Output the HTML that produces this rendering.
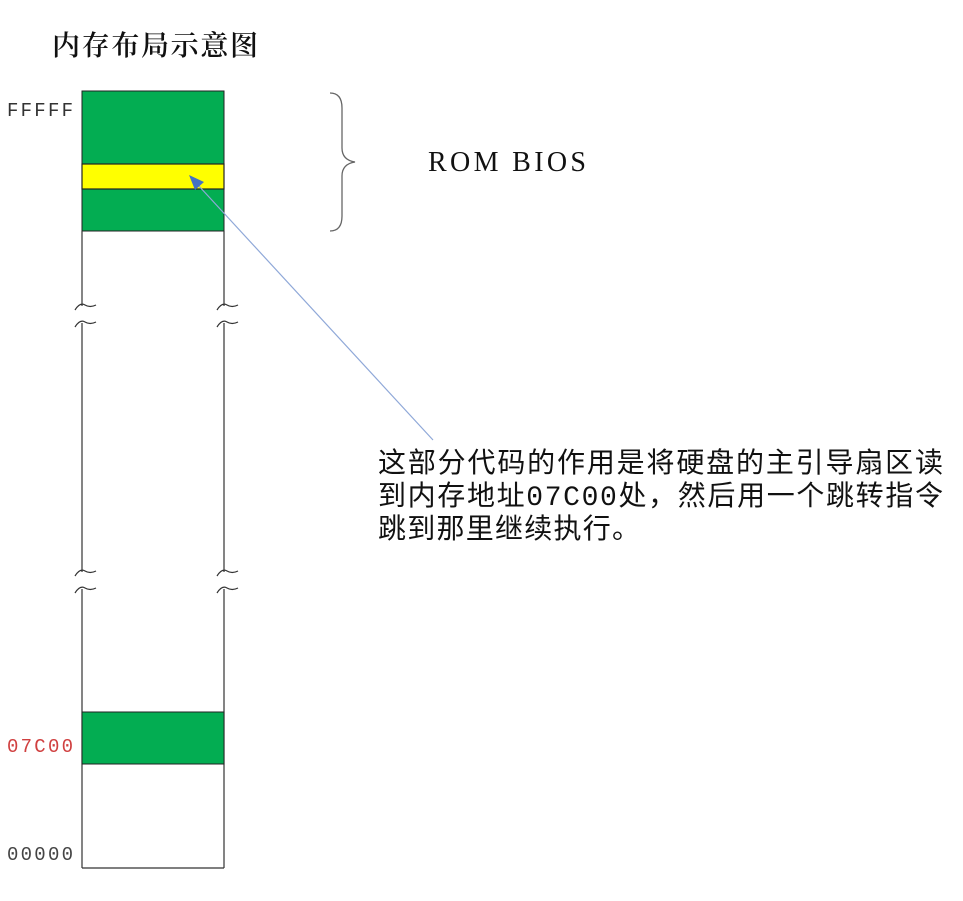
<!DOCTYPE html>
<html><head><meta charset="utf-8"><style>
html,body{margin:0;padding:0;background:#fff;}
svg{display:block;}
</style></head><body>
<svg width="963" height="901" viewBox="0 0 963 901" xmlns="http://www.w3.org/2000/svg">
<text x="52" y="55" font-family="Noto Serif CJK SC, serif" font-weight="600" font-size="28" textLength="206" fill="#111">内存布局示意图</text>
<g font-family="Liberation Mono, monospace" font-size="19">
<text x="7" y="116" fill="#333" textLength="66">FFFFF</text>
<text x="7" y="752" fill="#d04040" textLength="66">07C00</text>
<text x="7" y="860" fill="#444" textLength="66">00000</text>
</g>
<rect x="82" y="91" width="142" height="140" fill="#03ad52" stroke="#222" stroke-width="1"/>
<rect x="82" y="164" width="142" height="25" fill="#ffff00" stroke="#222" stroke-width="1.2"/>
<g stroke="#333" stroke-width="1.2" fill="none">
<line x1="82" y1="231" x2="82" y2="306"/>
<line x1="224" y1="231" x2="224" y2="306"/>
<path d="M75 310 Q80 302 85 305 T96 305"/>
<path d="M217 310 Q222 302 227 305 T238 305"/>
<path d="M75 327 Q80 319 85 322 T96 322"/>
<path d="M217 327 Q222 319 227 322 T238 322"/>
<line x1="82" y1="323" x2="82" y2="572"/>
<line x1="224" y1="323" x2="224" y2="572"/>
<path d="M75 576 Q80 568 85 571 T96 571"/>
<path d="M217 576 Q222 568 227 571 T238 571"/>
<path d="M75 593 Q80 585 85 588 T96 588"/>
<path d="M217 593 Q222 585 227 588 T238 588"/>
<line x1="82" y1="589" x2="82" y2="868"/>
<line x1="224" y1="589" x2="224" y2="868"/>
<line x1="82" y1="868" x2="224" y2="868"/>
</g>
<rect x="82" y="712" width="142" height="52" fill="#03ad52" stroke="#222" stroke-width="1"/>
<path d="M330 93 Q342 93 342 108 L342 148 Q342 160 355 162 Q342 164 342 176 L342 216 Q342 231 330 231" stroke="#666" stroke-width="1.3" fill="none"/>
<text x="428" y="171" font-family="Liberation Serif, serif" font-size="28" textLength="158" fill="#111">ROM BIOS</text>
<line x1="433" y1="440" x2="198" y2="185" stroke="#8fa8d8" stroke-width="1.2"/>
<polygon points="189,175 204,182 195,190" fill="#4472c4"/>
<g font-family="Liberation Mono, Noto Sans CJK SC, sans-serif" font-size="28" fill="#111">
<text x="378" y="472" textLength="565">这部分代码的作用是将硬盘的主引导扇区读</text>
<text x="378" y="505" textLength="565">到内存地址07C00处，然后用一个跳转指令</text>
<text x="378" y="538" textLength="262">跳到那里继续执行。</text>
</g>
</svg>
</body></html>
